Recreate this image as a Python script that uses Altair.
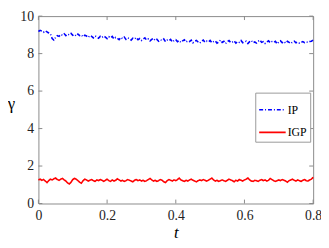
import altair as alt
import pandas as pd

series_names = ["IP", "IGP"]

ip_values = [9.18, 9.24, 9.20, 9.14, 9.22, 9.16, 9.10, 9.04, 8.80, 8.72, 8.86, 8.96, 8.92, 9.02, 8.98, 9.06, 8.96, 9.04, 9.00, 9.08,
             8.98, 9.02, 8.94, 9.04, 8.96, 9.00, 8.90, 8.98, 8.94, 8.86, 8.96, 8.92, 8.84, 8.94, 8.90, 8.82, 8.92, 8.86, 8.94, 8.88,
             8.80, 8.90, 8.84, 8.92, 8.78, 8.86, 8.82, 8.74, 8.86, 8.80, 8.88, 8.76, 8.84, 8.80, 8.72, 8.82, 8.78, 8.86, 8.74, 8.80,
             8.70, 8.78, 8.84, 8.72, 8.78, 8.68, 8.76, 8.82, 8.70, 8.76, 8.66, 8.74, 8.70, 8.78, 8.64, 8.72, 8.68, 8.76, 8.62, 8.70,
             8.74, 8.64, 8.70, 8.60, 8.68, 8.74, 8.62, 8.68, 8.64, 8.72, 8.58, 8.66, 8.70, 8.62, 8.56, 8.66, 8.72, 8.60, 8.66, 8.62,
             8.70, 8.58, 8.64, 8.68, 8.56, 8.62, 8.72, 8.60, 8.66, 8.54, 8.64, 8.70, 8.58, 8.62, 8.68, 8.56, 8.64, 8.60, 8.70, 8.58,
             8.62, 8.66, 8.54, 8.64, 8.70, 8.58, 8.62, 8.56, 8.66, 8.72, 8.60, 8.64, 8.54, 8.62, 8.68, 8.58, 8.64, 8.60, 8.66, 8.52,
             8.62, 8.68, 8.58, 8.64, 8.56, 8.66, 8.60, 8.54, 8.62, 8.66, 8.58, 8.62, 8.56, 8.60, 8.64, 8.58, 8.62, 8.60, 8.64, 8.66, 8.72]

igp_values = [1.26, 1.30, 1.24, 1.28, 1.20, 1.12, 1.22, 1.30, 1.26, 1.32, 1.36, 1.28, 1.24, 1.30, 1.34, 1.26, 1.20, 1.10, 1.04, 1.14,
              1.28, 1.34, 1.30, 1.22, 1.14, 1.08, 1.22, 1.30, 1.26, 1.20, 1.24, 1.28, 1.22, 1.18, 1.26, 1.22, 1.28, 1.24, 1.18, 1.24,
              1.30, 1.22, 1.18, 1.26, 1.20, 1.24, 1.32, 1.26, 1.20, 1.24, 1.18, 1.22, 1.28, 1.24, 1.20, 1.16, 1.24, 1.28, 1.22, 1.26,
              1.20, 1.24, 1.18, 1.22, 1.28, 1.34, 1.26, 1.20, 1.24, 1.18, 1.22, 1.28, 1.24, 1.16, 1.12, 1.22, 1.28, 1.24, 1.20, 1.26,
              1.22, 1.28, 1.36, 1.26, 1.22, 1.18, 1.24, 1.20, 1.26, 1.30, 1.24, 1.20, 1.16, 1.22, 1.26, 1.22, 1.28, 1.24, 1.20, 1.24,
              1.30, 1.36, 1.26, 1.20, 1.24, 1.18, 1.22, 1.26, 1.22, 1.18, 1.24, 1.30, 1.26, 1.22, 1.16, 1.24, 1.20, 1.28, 1.24, 1.20,
              1.26, 1.30, 1.36, 1.26, 1.20, 1.18, 1.24, 1.22, 1.18, 1.24, 1.28, 1.22, 1.26, 1.20, 1.24, 1.34, 1.28, 1.22, 1.18, 1.22,
              1.26, 1.22, 1.28, 1.24, 1.20, 1.14, 1.22, 1.26, 1.30, 1.24, 1.20, 1.26, 1.22, 1.18, 1.24, 1.28, 1.22, 1.20, 1.26, 1.30, 1.40]

t_step = 0.005
t_values = [round(i * t_step, 4) for i in range(len(ip_values))]

x_ticks = [0, 0.2, 0.4, 0.6, 0.8]
y_ticks = [0, 2, 4, 6, 8, 10]

rows = []
for name, vals in zip(series_names, [ip_values, igp_values]):
    for t, v in zip(t_values, vals):
        rows.append({"t": t, "gamma": v, "series": name})
df = pd.DataFrame(rows)

xt_df = pd.DataFrame({"t": x_ticks})
yt_df = pd.DataFrame({"gamma": y_ticks})

W, H = 280, 191
TL = 4
FONT = "Liberation Serif"
AXC = "#8a8a8a"

xs = alt.Scale(domain=[0, 0.8], nice=False, zero=False)
ys = alt.Scale(domain=[0, 10], nice=False)

legend = alt.Legend(
    title=None, orient="none", legendX=221, legendY=78,
    strokeColor="#999999", fillColor="white", padding=3,
    symbolType="stroke", symbolSize=729, symbolStrokeWidth=1.6,
    labelFont=FONT, labelFontSize=12, labelColor="black",
    rowPadding=2, labelOffset=1,
)

x_axis = alt.Axis(
    values=x_ticks, title="t", titleFontStyle="italic",
    titleFont=FONT, titleFontSize=17, titleFontWeight="normal", titleColor="black", titlePadding=3,
    labelFont=FONT, labelFontSize=14, labelColor="#222222", labelPadding=5,
    ticks=False, domain=False, grid=False, format="~g", labelFlush=False)
y_axis = alt.Axis(
    values=y_ticks, title="γ", titleAngle=0,
    titleFont=FONT, titleFontSize=17, titleFontWeight="normal", titleColor="black",
    titleX=-28, titleY=H / 2 - 6, titleBaseline="middle", titleAlign="center",
    labelFont=FONT, labelFontSize=14, labelColor="#222222", labelPadding=5,
    ticks=False, domain=False, grid=False, labelFlush=False)

lines = alt.Chart(df).mark_line(strokeWidth=1.6).encode(
    x=alt.X("t:Q", scale=xs, axis=x_axis),
    y=alt.Y("gamma:Q", scale=ys, axis=y_axis),
    color=alt.Color("series:N", scale=alt.Scale(domain=series_names, range=["#0000ff", "#ff0000"]), legend=legend),
    strokeDash=alt.StrokeDash("series:N", scale=alt.Scale(domain=series_names, range=[[4, 2, 1, 2], [1, 0]]), legend=legend),
)

tick_style = dict(color=AXC, strokeWidth=1)
bottom_ticks = alt.Chart(xt_df).mark_rule(**tick_style).encode(
    x=alt.X("t:Q", scale=xs, axis=x_axis), y=alt.value(H), y2=alt.value(H - TL))
top_ticks = alt.Chart(xt_df).mark_rule(**tick_style).encode(
    x=alt.X("t:Q", scale=xs, axis=x_axis), y=alt.value(0), y2=alt.value(TL))
left_ticks = alt.Chart(yt_df).mark_rule(**tick_style).encode(
    y=alt.Y("gamma:Q", scale=ys, axis=y_axis), x=alt.value(0), x2=alt.value(TL))
right_ticks = alt.Chart(yt_df).mark_rule(**tick_style).encode(
    y=alt.Y("gamma:Q", scale=ys, axis=y_axis), x=alt.value(W), x2=alt.value(W - TL))

chart = alt.layer(lines, bottom_ticks, top_ticks, left_ticks, right_ticks).properties(
    width=W, height=H, background="white",
    autosize=alt.AutoSizeParams(type="none"),
    padding={"left": 31, "top": 6, "right": 8, "bottom": 40},
).configure(
    font=FONT
).configure_axis(
    labelFont=FONT, titleFont=FONT
).configure_legend(
    labelFont=FONT
).configure_view(
    stroke=AXC, strokeWidth=1
)

chart.save("out.html", embed_options={"renderer": "svg", "actions": False})
